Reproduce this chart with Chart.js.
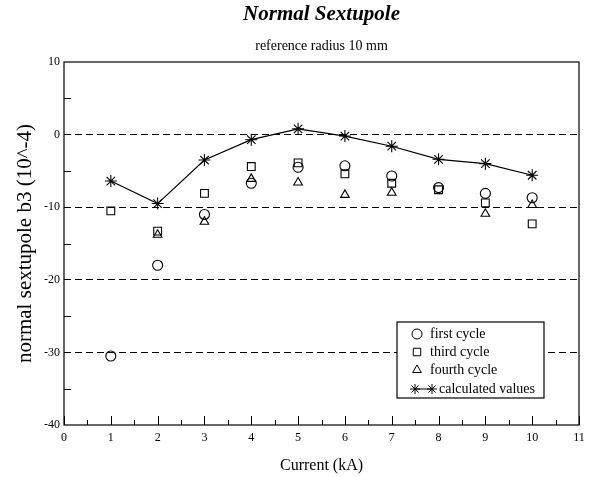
<!DOCTYPE html>
<html>
<head>
<meta charset="utf-8">
<script src="https://cdn.jsdelivr.net/npm/chart.js@4/dist/chart.umd.min.js"></script>
<style>
  html, body { margin: 0; padding: 0; background: #fff; }
  #wrap { width: 589px; height: 477px; }
</style>
</head>
<body>
<div id="wrap"><canvas id="c" width="589" height="477"></canvas></div>
<script>
// ---- data ----
const currentKA   = [1, 2, 3, 4, 5, 6, 7, 8, 9, 10];
const firstCycle  = [-30.5, -18.0, -11.0, -6.7, -4.5, -4.3, -5.7, -7.3, -8.1, -8.7];
const thirdCycle  = [-10.5, -13.3, -8.1, -4.4, -3.9, -5.4, -6.7, -7.6, -9.4, -12.3];
const fourthCycle = [null, -13.8, -12.0, -6.1, -6.6, -8.3, -8.0, null, -10.9, -9.7];
const calculated  = [-6.4, -9.5, -3.5, -0.7, 0.8, -0.2, -1.6, -3.4, -4.0, -5.6];
const xTickValues = [0, 1, 2, 3, 4, 5, 6, 7, 8, 9, 10, 11];
const yTickValues = [10, 0, -10, -20, -30, -40];

function toPoints(ys) {
  return currentKA.map((x, i) => ({ x: x, y: ys[i] })).filter(p => p.y !== null);
}

const SERIF = "'Liberation Serif', 'DejaVu Serif', serif";

const whiteBg = {
  id: 'whiteBg',
  beforeDraw(chart) {
    const ctx = chart.ctx;
    ctx.save();
    ctx.fillStyle = '#fff';
    ctx.fillRect(0, 0, chart.width, chart.height);
    ctx.restore();
  }
};

const frameAndTicks = {
  id: 'frameAndTicks',
  afterDatasetsDraw(chart) {
    const { ctx, chartArea: a, scales } = chart;
    const xs = scales.x, ys = scales.y;
    ctx.save();
    ctx.strokeStyle = '#000';
    ctx.lineWidth = 1.2;
    ctx.strokeRect(a.left, a.top, a.right - a.left, a.bottom - a.top);
    ctx.lineWidth = 1;
    ctx.beginPath();
    for (let v = xs.min; v <= xs.max + 1e-9; v += 0.5) {
      const px = Math.round(xs.getPixelForValue(v)) + 0.5;
      const major = Math.abs(v - Math.round(v)) < 1e-9;
      const len = major ? 9 : 5;
      ctx.moveTo(px, a.bottom);
      ctx.lineTo(px, a.bottom - len);
    }
    for (let v = ys.min + 5; v < ys.max; v += 10) {
      const py = Math.round(ys.getPixelForValue(v)) + 0.5;
      ctx.moveTo(a.left, py);
      ctx.lineTo(a.left + 7, py);
    }
    ctx.stroke();
    ctx.restore();
  }
};

const boxLegend = {
  id: 'boxLegend',
  afterDraw(chart) {
    const { ctx, chartArea: a } = chart;
    const left = a.right - 182, top = a.bottom - 103, w = 147, h = 76;
    ctx.save();
    ctx.fillStyle = '#fff';
    ctx.fillRect(left, top, w, h);
    ctx.strokeStyle = '#000';
    ctx.lineWidth = 1.2;
    ctx.strokeRect(left, top, w, h);
    ctx.textBaseline = 'middle';
    ctx.textAlign = 'left';
    const rows = [12, 30, 48, 67];
    chart.data.datasets.forEach((ds, i) => {
      const y = top + rows[i];
      ctx.strokeStyle = '#000';
      ctx.lineWidth = 1;
      const draw = (x) => {
        ctx.fillStyle = 'rgba(0,0,0,0)';
        Chart.helpers.drawPoint(ctx, {
          pointStyle: ds.pointStyle, radius: ds.legendRadius, borderWidth: 1, rotation: 0
        }, x, y);
      };
      let textX;
      if (ds.showLine) {
        ctx.beginPath();
        ctx.moveTo(left + 18, y);
        ctx.lineTo(left + 35, y);
        ctx.stroke();
        draw(left + 18);
        draw(left + 35);
        textX = left + 42;
      } else {
        draw(left + 20);
        textX = left + 33;
      }
      ctx.font = "14px " + SERIF;
      ctx.fillStyle = '#000';
      ctx.fillText(ds.label, textX, y);
    });
    ctx.restore();
  }
};

const common = {
  backgroundColor: 'rgba(0,0,0,0)',
  borderColor: '#000',
  pointBorderColor: '#000',
  pointBackgroundColor: 'rgba(0,0,0,0)',
  pointBorderWidth: 1.1,
  showLine: false
};

new Chart(document.getElementById('c'), {
  type: 'scatter',
  data: {
    datasets: [
      Object.assign({}, common, { label: 'first cycle', data: toPoints(firstCycle), pointStyle: 'circle', pointRadius: 5, legendRadius: 5 }),
      Object.assign({}, common, { label: 'third cycle', data: toPoints(thirdCycle), pointStyle: 'rect', pointRadius: 5.5, legendRadius: 5.3 }),
      Object.assign({}, common, { label: 'fourth cycle', data: toPoints(fourthCycle), pointStyle: 'triangle', pointRadius: 5, legendRadius: 5 }),
      Object.assign({}, common, { label: 'calculated values', data: toPoints(calculated), pointStyle: 'star', pointRadius: 6, legendRadius: 5, showLine: true, borderWidth: 1.2 })
    ]
  },
  options: {
    responsive: false,
    animation: false,
    layout: { padding: { left: 0, right: 10, top: 0, bottom: 0 } },
    plugins: {
      legend: { display: false },
      tooltip: { enabled: false },
      title: {
        display: true,
        fullSize: false,
        text: 'Normal Sextupole',
        color: '#000',
        font: { family: SERIF, size: 21, style: 'italic', weight: 'bold' },
        padding: { top: 2, bottom: 5 }
      },
      subtitle: {
        display: true,
        fullSize: false,
        text: 'reference radius 10 mm',
        color: '#000',
        font: { family: SERIF, size: 14 },
        padding: { top: 6, bottom: 7 }
      }
    },
    scales: {
      x: {
        type: 'linear',
        min: 0, max: 11,
        afterBuildTicks: (s) => { s.ticks = xTickValues.map(v => ({ value: v })); },
        afterFit: (s) => { s.height = 52; },
        grid: { display: false },
        border: { display: false },
        ticks: { color: '#000', font: { family: SERIF, size: 12 }, padding: -2, maxRotation: 0, autoSkip: false },
        title: { display: true, text: 'Current (kA)', color: '#000', font: { family: SERIF, size: 16 }, padding: { top: 0, bottom: 2 } }
      },
      y: {
        type: 'linear',
        min: -40, max: 10,
        afterBuildTicks: (s) => { s.ticks = yTickValues.map(v => ({ value: v })); },
        afterFit: (s) => { s.width = 64; },
        grid: {
          drawTicks: false,
          lineWidth: 1.1,
          color: (c) => (c.tick && (c.tick.value === 10 || c.tick.value === -40)) ? 'rgba(0,0,0,0)' : '#000'
        },
        border: { display: false, dash: [7, 4] },
        ticks: { color: '#000', font: { family: SERIF, size: 12 }, padding: 4, autoSkip: false },
        title: { display: true, text: 'normal sextupole b3 (10^-4)', color: '#000', font: { family: SERIF, size: 21 }, padding: { top: 13, bottom: 0 } }
      }
    }
  },
  plugins: [whiteBg, frameAndTicks, boxLegend]
});
</script>
</body>
</html>
